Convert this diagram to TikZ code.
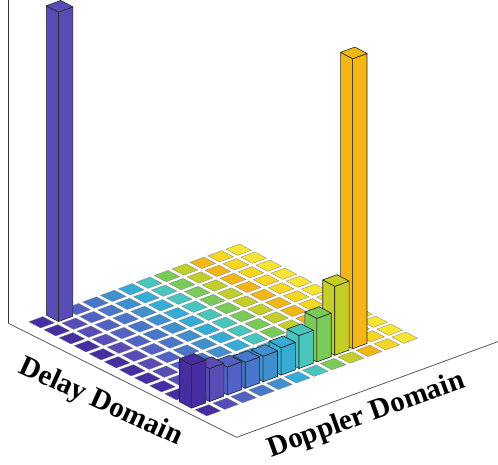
\documentclass[tikz,border=0pt]{standalone}
\usepackage{fontspec}
\setmainfont{Liberation Serif}
\definecolor{c0}{RGB}{70,46,162}
\definecolor{c1}{RGB}{88,76,182}
\definecolor{c2}{RGB}{82,98,196}
\definecolor{c3}{RGB}{72,118,202}
\definecolor{c4}{RGB}{64,144,208}
\definecolor{c5}{RGB}{52,172,214}
\definecolor{c6}{RGB}{72,198,190}
\definecolor{c7}{RGB}{122,202,90}
\definecolor{c8}{RGB}{196,206,40}
\definecolor{c9}{RGB}{242,182,22}
\definecolor{c10}{RGB}{246,214,36}
\definecolor{c11}{RGB}{247,228,52}
\tikzset{
  barface/.style={draw=black!85, line width=0.6pt, line join=round},
  tileface/.style={draw=black!50, line width=0.3pt, line join=round},
  axisline/.style={draw=black!65, line width=0.8pt},
  lab/.style={font=\fontsize{29}{32}\selectfont\bfseries, inner sep=0pt}
}
\newcommand\mybar[4]{% i j h color
  \def\s{0.4}
  \filldraw[barface, fill=#4] ({#1-\s},{#2-\s},0) -- ({#1+\s},{#2-\s},0) -- ({#1+\s},{#2-\s},#3) -- ({#1-\s},{#2-\s},#3) -- cycle;
  \filldraw[barface, fill=#4] ({#1+\s},{#2-\s},0) -- ({#1+\s},{#2+\s},0) -- ({#1+\s},{#2+\s},#3) -- ({#1+\s},{#2-\s},#3) -- cycle;
  \filldraw[barface, fill=#4] ({#1-\s},{#2-\s},#3) -- ({#1+\s},{#2-\s},#3) -- ({#1+\s},{#2+\s},#3) -- ({#1-\s},{#2+\s},#3) -- cycle;
}
\newcommand\mytile[3]{% i j color
  \def\s{0.39}
  \filldraw[tileface, fill=#3] ({#1-\s},{#2-\s},0) -- ({#1+\s},{#2-\s},0) -- ({#1+\s},{#2+\s},0) -- ({#1-\s},{#2+\s},0) -- cycle;
}
\begin{document}
\begin{tikzpicture}
\useasboundingbox (0,0) rectangle (498pt,-465pt);
% axes / floor
\coordinate (wt) at (8.3pt,0pt);
\coordinate (fl) at (8.3pt,-323.3pt);
\coordinate (ff) at (236.7pt,-437.3pt);
\coordinate (fr) at (498pt,-341.6pt);
\draw[axisline, draw=black!80] (wt) -- (fl);
\draw[axisline] (fl) -- (ff) -- (fr);
% bars
\begin{scope}[shift={(41.7pt,-322.3pt)}, x={(15.1pt,-8pt)}, y={(17.9pt,6.6pt)}, z={(0pt,1pt)}]
\foreach \i in {0,...,11}{
  \foreach \j in {11,...,0}{
    \pgfmathtruncatemacro\isbar{(\i==10 && \j<10) || (\i==0 && \j==1) ? 1 : 0}
    \ifnum\isbar=1
      \ifnum\i=0
        \mybar{\i}{\j}{309.4}{c\j}
      \else
        \pgfmathsetmacro\hh{{43,33,28,26,25.5,27.5,33,43.5,69,290}[\j]}
        \mybar{\i}{\j}{\hh}{c\j}
      \fi
    \else
      \mytile{\i}{\j}{c\j}
    \fi
  }
}
\end{scope}
\node[lab, rotate=-24.5, anchor=base] (delay) at (97.5pt,-409pt) {Delay Domain};
\node[lab, rotate=19.8, anchor=base] (doppler) at (369pt,-422pt) {Doppler Domain};
\end{tikzpicture}
\end{document}
